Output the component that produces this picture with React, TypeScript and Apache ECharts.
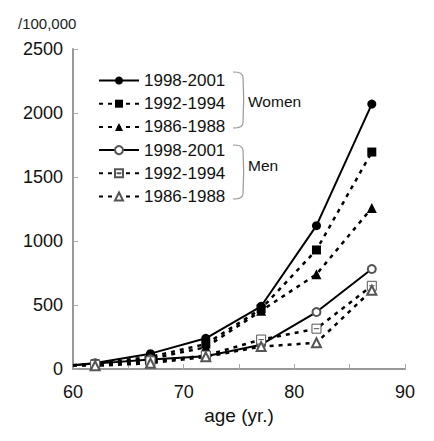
import React, { useEffect, useRef } from "react";
import * as echarts from "echarts";

const ages = [60, 62, 67, 72, 77, 82, 87];
const women1998 = [30, 47, 120, 240, 490, 1120, 2070];
const women1992 = [30, 40, 95, 195, 470, 930, 1695];
const women1986 = [30, 35, 80, 170, 455, 740, 1258];
const men1998 = [30, 42, 75, 100, 190, 445, 781];
const men1992 = [30, 32, 60, 105, 230, 315, 650];
const men1986 = [30, 25, 45, 95, 175, 205, 615];
const periodLabels = ["1998-2001", "1992-1994", "1986-1988"];
const groupLabels = ["Women", "Men"];
const yUnit = "/100,000";
const xTitle = "age (yr.)";

const FONT = "'Liberation Sans', Arial, Helvetica, sans-serif";

function pts(vals: number[]) {
  return ages.map((a, i) =>
    i === 0 ? { value: [a, vals[i]], symbol: "none" } : { value: [a, vals[i]] }
  );
}

export default function App() {
  const ref = useRef<HTMLDivElement>(null);
  useEffect(() => {
    document.body.style.margin = "0";
    const chart = echarts.init(ref.current!, null, { renderer: "svg" });
    const dash = [4, 5];
    const mk = (
      key: string,
      vals: number[],
      symbol: string,
      size: number,
      dashed: boolean,
      style: any
    ) => ({
      type: "line",
      name: key,
      data: pts(vals),
      symbol,
      symbolSize: size,
      lineStyle: { color: "#000", width: dashed ? 2.5 : 2, type: dashed ? dash : "solid" },
      itemStyle: style,
      z: 2,
    });
    const filled = { color: "#000", borderWidth: 0 };
    const hollow = { color: "#555", borderWidth: 1 };
    const boxed = { color: "#fff", borderColor: "#555", borderWidth: 1 };
    const series = [
      mk("W " + periodLabels[0], women1998, "circle", 9, false, filled),
      mk("W " + periodLabels[1], women1992, "rect", 9, true, filled),
      mk("W " + periodLabels[2], women1986, "triangle", 10, true, filled),
      mk("M " + periodLabels[0], men1998, "emptyCircle", 8, false, hollow),
      mk("M " + periodLabels[1], men1992, "path://M0,0H10V10H0Z M2,5H8", 9, true, boxed),
      mk("M " + periodLabels[2], men1986, "emptyTriangle", 9, true, hollow),
    ];
    const bracket = (top: number, bottom: number) => ({
      type: "polyline",
      shape: {
        points: [
          [233, top],
          [240, top + 1],
          [243, top + 5],
          [243, bottom - 5],
          [240, bottom - 1],
          [233, bottom],
        ],
        smooth: 0.3,
      },
      style: { stroke: "#999", lineWidth: 1.2, fill: null },
    });
    chart.setOption({
      animation: false,
      grid: { left: 73, right: 29, top: 49, bottom: 72, containLabel: false },
      xAxis: {
        type: "value",
        min: 60,
        max: 90,
        interval: 5,
        name: xTitle,
        nameLocation: "middle",
        nameGap: 36,
        nameTextStyle: { fontSize: 19, color: "#111", fontFamily: FONT },
        axisLine: { lineStyle: { color: "#999", width: 2 } },
        axisTick: { inside: true, length: 5, lineStyle: { color: "#aaa" } },
        axisLabel: {
          fontSize: 18,
          color: "#111",
          margin: 14,
          fontFamily: FONT,
          formatter: (v: number) => (v % 10 === 0 ? String(v) : ""),
        },
        splitLine: { show: false },
      },
      yAxis: {
        type: "value",
        min: 0,
        max: 2500,
        interval: 500,
        axisLine: { show: true, lineStyle: { color: "#999", width: 2 } },
        axisTick: { show: true, inside: true, length: 5, lineStyle: { color: "#aaa" } },
        axisLabel: { fontSize: 18, color: "#111", margin: 10, fontFamily: FONT, formatter: (v: number) => String(v) },
        splitLine: { show: false },
      },
      legend: {
        orient: "vertical",
        left: 93,
        top: 67,
        itemWidth: 40,
        itemHeight: 10,
        itemGap: 6.2,
        formatter: (n: string) => n.slice(2),
        textStyle: { fontSize: 17, color: "#111", fontFamily: FONT },
        data: series.map((s) => s.name),
      },
      graphic: [
        { type: "text", left: 18, top: 16, style: { text: yUnit, fontSize: 15, fill: "#222", fontFamily: FONT } },
        bracket(72, 128),
        bracket(145, 199),
        { type: "text", x: 248, y: 101, style: { text: groupLabels[0], fontSize: 15.5, fill: "#111", fontFamily: FONT, verticalAlign: "middle" } },
        { type: "text", x: 248, y: 165, style: { text: groupLabels[1], fontSize: 15.5, fill: "#111", fontFamily: FONT, verticalAlign: "middle" } },
      ],
      series,
    });
    return () => chart.dispose();
  }, []);
  return <div ref={ref} style={{ width: 434, height: 441 }} />;
}
